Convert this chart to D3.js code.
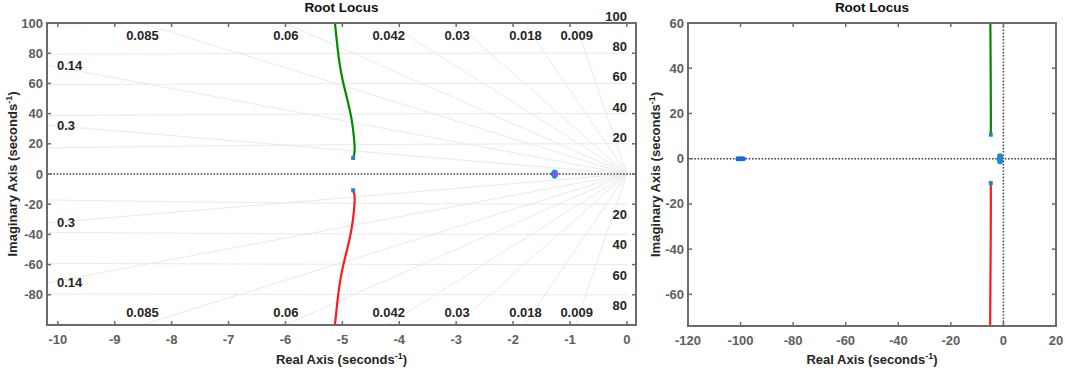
<!DOCTYPE html>
<html>
<head>
<meta charset="utf-8">
<script src="https://cdn.jsdelivr.net/npm/d3@7"></script>
<style>
  html, body { margin: 0; padding: 0; background: #fff; }
  svg { display: block; }
  text { font-family: "Liberation Sans", Arial, sans-serif; font-weight: bold; }
</style>
</head>
<body>
<svg id="chart" width="1065" height="370"></svg>
<script>
// ---- Data ----
const upperBranchReal = [-4.81, -4.79, -4.78, -4.79, -4.83, -4.91, -5.0, -5.06, -5.10, -5.13];
const upperBranchImag = [10.6, 13, 16.1, 22.7, 36, 49.2, 62.4, 75, 89, 100];
const lowerBranchReal = [-4.81, -4.79, -4.78, -4.79, -4.83, -4.91, -5.0, -5.06, -5.10, -5.13];
const lowerBranchImag = [-10.8, -13, -16.1, -22.7, -36, -49.2, -62.4, -75, -89, -100];
const clusterPoleReal = [-1.29, -1.25, -1.27, -1.27];
const clusterPoleImag = [0, 0, 1.1, -1.1];
const farPoleReal = [-101, -100, -99];
const farPoleImag = [0, 0, 0];
const shortBranchReal = [-1.30, -1.21];
const shortBranchImag = [-0.3, -0.3];
const dampingValues = [0.3, 0.14, 0.085, 0.06, 0.042, 0.03, 0.018, 0.009];
const dampingLabels = ["0.3", "0.14", "0.085", "0.06", "0.042", "0.03", "0.018", "0.009"];
const wnValues = [20, 40, 60, 80, 100];
const wnUpperLabels = ["20", "40", "60", "80", "100"];
const wnLowerLabels = ["20", "40", "60", "80", ""];
const leftXTicks = [-10, -9, -8, -7, -6, -5, -4, -3, -2, -1, 0];
const leftYTicks = [-80, -60, -40, -20, 0, 20, 40, 60, 80, 100];
const rightXTicks = [-120, -100, -80, -60, -40, -20, 0, 20];
const rightYTicks = [-60, -40, -20, 0, 20, 40, 60];

const svg = d3.select("#chart");
const frameColor = "#6b6b6b";
const tickTextColor = "#5e5e5e";
const darkText = "#262626";

function makePanel(cfg) {
  const { id, x0, x1, y0, y1, xDomain, yDomain } = cfg;
  const x = d3.scaleLinear().domain(xDomain).range([x0, x1]);
  const y = d3.scaleLinear().domain(yDomain).range([y1, y0]);
  const g = svg.append("g");
  svg.append("defs").append("clipPath").attr("id", id)
    .append("rect").attr("x", x0).attr("y", y0).attr("width", x1 - x0).attr("height", y1 - y0);
  const inner = g.append("g").attr("clip-path", `url(#${id})`);
  return { x, y, g, inner, x0, x1, y0, y1 };
}

function drawFrame(p, xTicks, yTicks, yLabelX) {
  const { x, y, g, x0, x1, y0, y1 } = p;
  const tl = 4;
  const xa = g.append("g");
  xTicks.forEach(t => {
    xa.append("line").attr("x1", x(t)).attr("x2", x(t)).attr("y1", y1).attr("y2", y1 - tl)
      .attr("stroke", frameColor).attr("stroke-width", 1.5);
    xa.append("line").attr("x1", x(t)).attr("x2", x(t)).attr("y1", y0).attr("y2", y0 + tl)
      .attr("stroke", frameColor).attr("stroke-width", 1.5);
    xa.append("text").attr("x", x(t)).attr("y", y1 + 18.5).attr("text-anchor", "middle")
      .attr("font-size", 13).attr("fill", tickTextColor).text(t);
  });
  yTicks.forEach(t => {
    xa.append("line").attr("x1", x0).attr("x2", x0 + tl).attr("y1", y(t)).attr("y2", y(t))
      .attr("stroke", frameColor).attr("stroke-width", 1.5);
    xa.append("line").attr("x1", x1).attr("x2", x1 - tl).attr("y1", y(t)).attr("y2", y(t))
      .attr("stroke", frameColor).attr("stroke-width", 1.5);
    xa.append("text").attr("x", x0 - 4).attr("y", y(t) + 4.5).attr("text-anchor", "end")
      .attr("font-size", 13).attr("fill", tickTextColor).text(t);
  });
  g.append("rect").attr("x", x0).attr("y", y0).attr("width", x1 - x0).attr("height", y1 - y0)
    .attr("fill", "none").attr("stroke", frameColor).attr("stroke-width", 2);
  const cx = (x0 + x1) / 2;
  g.append("text").attr("x", cx).attr("y", 12).attr("text-anchor", "middle")
    .attr("font-size", 13.5).attr("fill", "#111").text("Root Locus");
  const xl = g.append("text").attr("x", cx).attr("y", 364).attr("text-anchor", "middle")
    .attr("font-size", 13).attr("fill", darkText);
  xl.append("tspan").text("Real Axis (seconds");
  xl.append("tspan").attr("font-size", 9).attr("dy", -5).text("-1");
  xl.append("tspan").attr("dy", 5).text(")");
  const cy = (y0 + y1) / 2;
  const yl = g.append("text").attr("transform", `translate(${yLabelX},${cy}) rotate(-90)`)
    .attr("text-anchor", "middle").attr("font-size", 13).attr("fill", darkText);
  yl.append("tspan").text("Imaginary Axis (seconds");
  yl.append("tspan").attr("font-size", 9).attr("dy", -5).text("-1");
  yl.append("tspan").attr("dy", 5).text(")");
}

const line = (p) => d3.line().x(d => p.x(d[0])).y(d => p.y(d[1])).curve(d3.curveBasis);
const zip = (a, b) => a.map((v, i) => [v, b[i]]);

function drawLoci(p, markerR) {
  const L = line(p);
  p.inner.append("path").attr("d", L(zip(upperBranchReal, upperBranchImag)))
    .attr("fill", "none").attr("stroke", "#008a00").attr("stroke-width", 2.2);
  p.inner.append("path").attr("d", L(zip(lowerBranchReal, lowerBranchImag)))
    .attr("fill", "none").attr("stroke", "#ff1a1a").attr("stroke-width", 2.2);
  [[upperBranchReal[0], upperBranchImag[0]], [lowerBranchReal[0], lowerBranchImag[0]]].forEach(d => {
    p.inner.append("rect").attr("x", p.x(d[0]) - 2).attr("y", p.y(d[1]) - 2)
      .attr("width", 4).attr("height", 4).attr("fill", "#1f86c9");
  });
  p.inner.append("path").attr("d", d3.line().x(d => p.x(d[0])).y(d => p.y(d[1]))(zip(farPoleReal, farPoleImag)))
    .attr("stroke", "#1a5fe0").attr("stroke-width", 3).attr("fill", "none");
  zip(farPoleReal, farPoleImag).forEach(d => {
    p.inner.append("circle").attr("cx", p.x(d[0])).attr("cy", p.y(d[1])).attr("r", 2.5).attr("fill", "#1a66e0");
  });
  zip(clusterPoleReal, clusterPoleImag).forEach(d => {
    p.inner.append("circle").attr("cx", p.x(d[0])).attr("cy", p.y(d[1])).attr("r", markerR).attr("fill", "#1a8ad8");
  });
  p.inner.append("path").attr("d", d3.line().x(d => p.x(d[0])).y(d => p.y(d[1]))(zip(shortBranchReal, shortBranchImag)))
    .attr("stroke", "#ff1aff").attr("stroke-width", 2).attr("fill", "none");
}

// ---- Left panel ----
const left = makePanel({ id: "clipL", x0: 47, x1: 636, y0: 23, y1: 325, xDomain: [-10.19, 0.16], yDomain: [-100, 100] });
{
  const p = left;
  const gridColor = "#e6e6e6";
  wnValues.forEach(wn => {
    const pts = d3.range(0, 181, 1).map(a => {
      const th = (90 + a) * Math.PI / 180;
      return [wn * Math.cos(th), wn * Math.sin(th)];
    });
    p.inner.append("path").attr("d", d3.line().x(d => p.x(d[0])).y(d => p.y(d[1]))(pts))
      .attr("fill", "none").attr("stroke", gridColor).attr("stroke-width", 0.9);
  });
  const xmin = p.x.domain()[0], ymax = p.y.domain()[1];
  dampingValues.forEach((z, i) => {
    const s = Math.sqrt(1 - z * z);
    const t = Math.min(ymax / s, -xmin / z);
    const ex = -z * t, ey = s * t;
    [1, -1].forEach(sg => {
      p.inner.append("line").attr("x1", p.x(0)).attr("y1", p.y(0)).attr("x2", p.x(ex)).attr("y2", p.y(sg * ey))
        .attr("stroke", gridColor).attr("stroke-width", 0.9);
      const hitsTop = (ymax / s) < (-xmin / z);
      if (hitsTop) {
        p.g.append("text").attr("x", p.x(ex) + 1).attr("y", sg > 0 ? p.y0 + 16.5 : p.y1 - 8)
          .attr("text-anchor", "middle").attr("font-size", 13).attr("fill", darkText).text(dampingLabels[i]);
      } else {
        p.g.append("text").attr("x", p.x0 + 10).attr("y", p.y(sg * ey) + 4.5)
          .attr("text-anchor", "start").attr("font-size", 13).attr("fill", darkText).text(dampingLabels[i]);
      }
    });
  });
  wnValues.forEach((wn, i) => {
    p.g.append("text").attr("x", p.x(0)).attr("y", p.y(wn) - 2).attr("text-anchor", "end")
      .attr("font-size", 13).attr("fill", darkText).text(wnUpperLabels[i]);
    if (wnLowerLabels[i]) {
      p.g.append("text").attr("x", p.x(0)).attr("y", p.y(-wn) + 15).attr("text-anchor", "end")
        .attr("font-size", 13).attr("fill", darkText).text(wnLowerLabels[i]);
    }
  });
  p.inner.append("line").attr("x1", p.x0).attr("x2", p.x1).attr("y1", p.y(0)).attr("y2", p.y(0))
    .attr("stroke", "#444").attr("stroke-width", 1.5).attr("stroke-dasharray", "1.6,1.6");
  drawLoci(p, 2.8);
  drawFrame(p, leftXTicks, leftYTicks, 16.5);
}

// ---- Right panel ----
const right = makePanel({ id: "clipR", x0: 688, x1: 1056, y0: 23, y1: 326, xDomain: [-120, 20], yDomain: [-74, 60] });
{
  const p = right;
  p.inner.append("line").attr("x1", p.x0).attr("x2", p.x1).attr("y1", p.y(0)).attr("y2", p.y(0))
    .attr("stroke", "#444").attr("stroke-width", 1.5).attr("stroke-dasharray", "1.6,1.6");
  p.inner.append("line").attr("x1", p.x(0)).attr("x2", p.x(0)).attr("y1", p.y0).attr("y2", p.y1)
    .attr("stroke", "#444").attr("stroke-width", 1.5).attr("stroke-dasharray", "1.6,1.6");
  drawLoci(p, 3);
  drawFrame(p, rightXTicks, rightYTicks, 659.5);
}
</script>
</body>
</html>
